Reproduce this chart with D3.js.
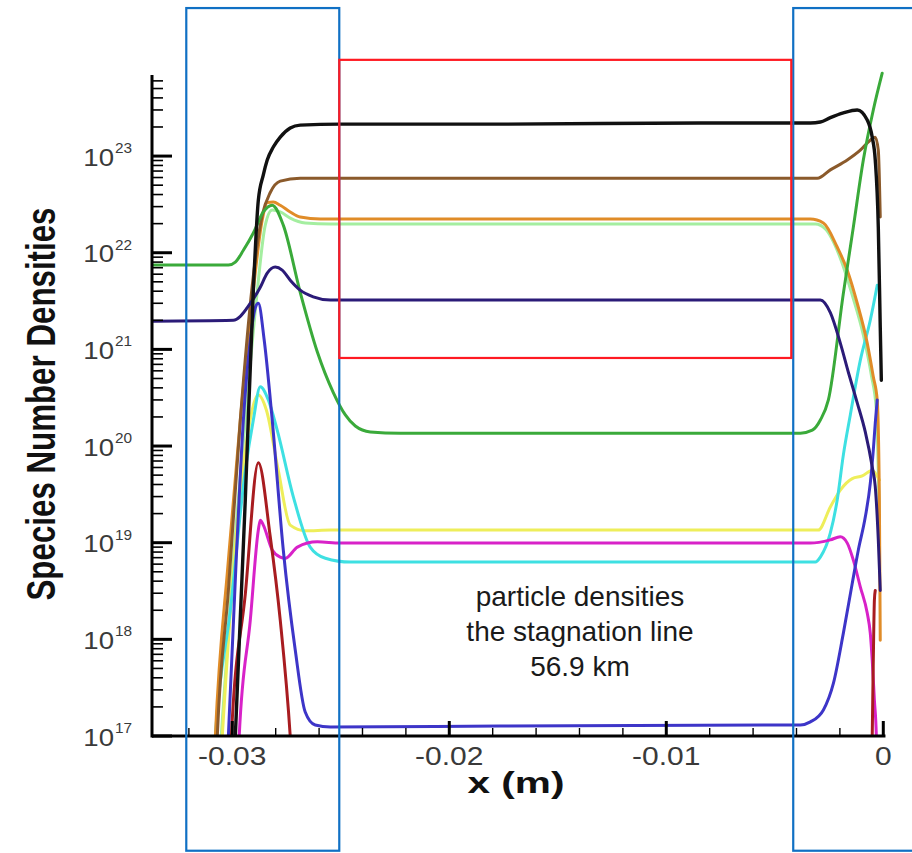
<!DOCTYPE html>
<html><head><meta charset="utf-8">
<script src="https://cdn.jsdelivr.net/npm/d3@7/dist/d3.min.js"></script>
<style>
html,body{margin:0;padding:0;background:#fff;}
svg{display:block;}
text{font-family:"Liberation Sans", Arial, Helvetica, sans-serif;}
</style></head><body>
<svg id="chart" width="912" height="853"></svg>
<script>
// ---------- data (x in m, number density in m^-3) ----------
const xTicks = [-0.03, -0.02, -0.01, 0];
const xTickLabels = ["-0.03", "-0.02", "-0.01", "0"];
const yExponents = [17, 18, 19, 20, 21, 22, 23];
const annotationLines = ["particle densities", "the stagnation line", "56.9 km"];

const black = [[-0.02995,3e16],[-0.02986,1e17],[-0.02940,2.8e19],[-0.02903,4.1e21],[-0.02880,3.5e22],[-0.02857,6.4e22],[-0.02839,9.1e22],[-0.02811,1.24e23],[-0.02779,1.57e23],[-0.02733,1.95e23],[-0.02687,2.09e23],[-0.02502,2.14e23],[-0.01765,2.14e23],[-0.00843,2.2e23],[-0.00336,2.2e23],[-0.00290,2.25e23],[-0.00244,2.5e23],[-0.00184,2.8e23],[-0.00120,3.0e23],[-0.00074,2.36e23],[-0.00051,1.57e23],[-0.00037,9.1e22],[-0.00023,1.84e22],[-0.00014,1.7e21],[-0.00009,4.8e20]];
const brown = [[-0.03078,3e16],[-0.03069,1e17],[-0.03018,3.2e18],[-0.02963,1.86e20],[-0.02908,4.6e21],[-0.02862,2.45e22],[-0.02825,4.2e22],[-0.02779,5.5e22],[-0.02687,5.9e22],[-0.01765,5.9e22],[-0.00304,5.9e22],[-0.00244,7.2e22],[-0.00166,9.1e22],[-0.00106,1.15e23],[-0.00060,1.46e23],[-0.00037,1.57e23],[-0.00023,1.15e23],[-0.00014,2.34e22]];
const orange = [[-0.03088,3e16],[-0.03078,1e17],[-0.03018,6.6e18],[-0.02963,1.86e20],[-0.02908,3.24e21],[-0.02862,2.18e22],[-0.02839,3.3e22],[-0.02811,3.35e22],[-0.02779,3.1e22],[-0.02733,2.64e22],[-0.02687,2.34e22],[-0.02594,2.23e22],[-0.01765,2.23e22],[-0.00336,2.23e22],[-0.00276,2.03e22],[-0.00212,1.14e22],[-0.00166,6.6e21],[-0.00120,3.0e21],[-0.00074,1.16e21],[-0.00046,5.2e20],[-0.00028,3.0e20],[-0.00018,2.8e19],[-0.00014,9.8e17]];
const paleGreen = [[-0.03065,3e16],[-0.03051,1e17],[-0.02995,6.6e18],[-0.02940,1.86e20],[-0.02889,3.24e21],[-0.02848,1.93e22],[-0.02816,2.76e22],[-0.02779,2.64e22],[-0.02733,2.28e22],[-0.02664,2.03e22],[-0.02548,1.98e22],[-0.00313,1.98e22],[-0.00267,1.76e22],[-0.00198,8.8e21],[-0.00143,3.65e21],[-0.00092,1.41e21],[-0.00055,5.4e20],[-0.00032,2.36e20],[-0.00018,1.71e19]];
const green = [[-0.03369,7.45e21],[-0.03147,7.45e21],[-0.03018,7.45e21],[-0.02986,8.0e21],[-0.02949,1.06e22],[-0.02903,1.6e22],[-0.02857,2.64e22],[-0.02816,3.1e22],[-0.02765,1.93e22],[-0.02687,3.9e21],[-0.02608,9.4e20],[-0.02535,3.6e20],[-0.02479,2.1e20],[-0.02433,1.61e20],[-0.02364,1.4e20],[-0.02226,1.36e20],[-0.00382,1.36e20],[-0.00327,1.46e20],[-0.00290,1.86e20],[-0.00253,3.0e20],[-0.00184,3.8e21],[-0.00138,1.84e22],[-0.00092,9.1e22],[-0.00046,3.0e23],[-0.00005,7.2e23]];
const indigo = [[-0.03369,1.96e21],[-0.02995,2.0e21],[-0.02963,2.2e21],[-0.02931,2.7e21],[-0.02871,4.4e21],[-0.02839,6.15e21],[-0.02802,7.1e21],[-0.02770,6.6e21],[-0.02733,5.2e21],[-0.02687,4.1e21],[-0.02627,3.5e21],[-0.02548,3.24e21],[-0.00290,3.24e21],[-0.00244,2.4e21],[-0.00198,1.16e21],[-0.00161,5.8e20],[-0.00120,2.8e20],[-0.00083,1.4e20],[-0.00051,6.1e19],[-0.00037,3.8e19],[-0.00023,1.07e19],[-0.00014,3.2e18]];
const blue = [[-0.03028,3e16],[-0.03018,1e17],[-0.02982,6.6e18],[-0.02949,1.86e20],[-0.02917,1.25e21],[-0.02894,2.7e21],[-0.02880,3.0e21],[-0.02853,1.25e21],[-0.02816,1.86e20],[-0.02765,8.4e18],[-0.02710,7.8e17],[-0.02664,1.77e17],[-0.02618,1.3e17],[-0.02548,1.24e17],[-0.01765,1.27e17],[-0.00382,1.3e17],[-0.00336,1.4e17],[-0.00276,1.86e17],[-0.00230,3.5e17],[-0.00184,1.16e18],[-0.00143,3.8e18],[-0.00115,8.4e18],[-0.00083,1.84e19],[-0.00060,4.1e19],[-0.00046,9.1e19],[-0.00037,1.73e20],[-0.00028,3.0e20]];
const cyan = [[-0.03092,3e16],[-0.03078,1e17],[-0.03009,2.0e18],[-0.02940,5.6e19],[-0.02903,1.86e20],[-0.02871,4.1e20],[-0.02834,3.0e20],[-0.02793,1.46e20],[-0.02719,3.0e19],[-0.02641,9.0e18],[-0.02571,6.9e18],[-0.02456,6.3e18],[-0.00313,6.3e18],[-0.00290,7.1e18],[-0.00244,1.26e19],[-0.00212,2.8e19],[-0.00184,8.1e19],[-0.00152,2.1e20],[-0.00106,7.7e20],[-0.00060,2.0e21],[-0.00028,4.6e21]];
const yellow = [[-0.03060,3e16],[-0.03046,1e17],[-0.02991,6.6e18],[-0.02926,1.46e20],[-0.02880,3.37e20],[-0.02843,2.36e20],[-0.02788,5.6e19],[-0.02733,1.52e19],[-0.02664,1.33e19],[-0.02548,1.35e19],[-0.00300,1.35e19],[-0.00244,2.34e19],[-0.00198,3.5e19],[-0.00143,4.6e19],[-0.00097,4.9e19],[-0.00051,5.6e19],[-0.00018,4.45e19]];
const magenta = [[-0.02977,3e16],[-0.02968,1e17],[-0.02917,1.58e18],[-0.02880,1.35e19],[-0.02871,1.71e19],[-0.02857,1.52e19],[-0.02816,8.4e18],[-0.02779,7.1e18],[-0.02756,6.9e18],[-0.02700,9.0e18],[-0.02608,1.02e19],[-0.02502,9.9e18],[-0.00336,9.9e18],[-0.00244,1.07e19],[-0.00198,1.15e19],[-0.00166,9.9e18],[-0.00138,6.6e18],[-0.00106,3.5e18],[-0.00074,1.87e18],[-0.00060,1.16e18],[-0.00051,6.1e17],[-0.00041,2.36e17],[-0.00032,1e17],[-0.00028,3e16]];
const darkRed = [[-0.03013,3e16],[-0.03004,1e17],[-0.02940,2.94e18],[-0.02880,6.7e19],[-0.02825,1.15e19],[-0.02779,1.58e18],[-0.02733,1e17],[-0.02719,3e16],[-0.02687,1e15],[-0.00083,1e15],[-0.00055,3e16],[-0.00051,1e17],[-0.00046,6.1e17],[-0.00041,2.55e18],[-0.00037,3.2e18]];

const seriesNames = ["paleGreen","yellow","cyan","orange","brown","green","magenta","blue","indigo","darkRed","black"];
const seriesData = [paleGreen, yellow, cyan, orange, brown, green, magenta, blue, indigo, darkRed, black];
const seriesColors = ["#a4eea0","#eeee5a","#3ee0e2","#e08c28","#8b5a2b","#3aaa3a","#d822c8","#3d35c8","#2b1b78","#a81c20","#111111"];

// annotation boxes, in data units
const boxesX0 = [-0.03212, -0.00415, -0.02507];
const boxesX1 = [-0.02507, 0.0016, -0.00424];
const boxesYTop = [3.4e24, 3.4e24, 9.9e23];
const boxesYBot = [6.5e15, 6.5e15, 8.15e20];
const boxesColor = ["#1070c4", "#1070c4", "#ff1a22"];

// ---------- drawing ----------
const svg = d3.select("#chart");
const x = d3.scaleLinear().domain([-0.0337, 0.0001]).range([152, 152 + 0.0338 * 21700]);
const y = d3.scaleLog().domain([1e17, 6.9e23]).range([736, 75]);
const [x0, x1] = x.range();
const [yb, yt] = y.range();

svg.append("defs").append("clipPath").attr("id", "clip")
  .append("rect").attr("x", x0 + 1).attr("y", 55).attr("width", x1 - x0 + 6).attr("height", yb - 55);

const line = d3.line().x(d => x(d[0])).y(d => y(d[1])).curve(d3.curveMonotoneX);
const lines = svg.append("g").attr("clip-path", "url(#clip)");
seriesData.forEach((arr, i) => {
  lines.append("path").datum(arr)
    .attr("d", line).attr("fill", "none")
    .attr("stroke", seriesColors[i])
    .attr("stroke-width", seriesNames[i] === "black" ? 3.4 : 3)
    .attr("stroke-linejoin", "round").attr("stroke-linecap", "round");
});

// axes
const ax = svg.append("g").attr("stroke", "#000");
ax.append("line").attr("x1", x0).attr("x2", x0).attr("y1", yb + 1.5).attr("y2", yt).attr("stroke-width", 3);
ax.append("line").attr("x1", x0).attr("x2", x1).attr("y1", yb).attr("y2", yb).attr("stroke-width", 3);

// y ticks
yExponents.forEach(e => {
  const yy = y(Math.pow(10, e));
  ax.append("line").attr("x1", x0).attr("x2", x0 + 20).attr("y1", yy).attr("y2", yy).attr("stroke-width", 3);
  for (let k = 2; k <= 9; k++) {
    const v = k * Math.pow(10, e);
    if (v > y.domain()[1]) break;
    const ym = y(v);
    ax.append("line").attr("x1", x0).attr("x2", x0 + 11).attr("y1", ym).attr("y2", ym).attr("stroke-width", 1.6);
  }
});
// x ticks
for (let i = -16; i <= 0; i++) {
  const v = i * 0.002;
  if (v < x.domain()[0]) continue;
  const xx = x(v);
  const major = Math.abs(v / 0.01 - Math.round(v / 0.01)) < 1e-6;
  ax.append("line").attr("x1", xx).attr("x2", xx).attr("y1", yb).attr("y2", yb - (major ? 15 : 8))
    .attr("stroke-width", major ? 3 : 1.4);
}

// tick labels
const lab = svg.append("g").attr("fill", "#3a3a3a");
yExponents.forEach(e => {
  const yy = y(Math.pow(10, e));
  lab.append("text").attr("transform", `translate(114,${yy + 9.5}) scale(1.15,1)`)
    .attr("text-anchor", "end").attr("font-size", 24).text("10");
  lab.append("text").attr("transform", `translate(115,${yy - 3}) scale(1.1,1)`)
    .attr("text-anchor", "start").attr("font-size", 14).text(e);
});
xTicks.forEach((t, i) => {
  lab.append("text").attr("transform", `translate(${x(t)},765) scale(1.2,1)`)
    .attr("text-anchor", "middle").attr("font-size", 25).text(xTickLabels[i]);
});

// axis titles
svg.append("text").attr("x", 516).attr("y", 793).attr("text-anchor", "middle")
  .attr("font-size", 30).attr("font-weight", "bold").attr("fill", "#111")
  .attr("textLength", 97).attr("lengthAdjust", "spacingAndGlyphs").text("x (m)");
svg.append("text").attr("transform", "translate(55,404) rotate(-90)").attr("text-anchor", "middle")
  .attr("font-size", 40).attr("font-weight", "bold").attr("fill", "#111")
  .attr("textLength", 393).attr("lengthAdjust", "spacingAndGlyphs").text("Species Number Densities");

// annotation text
annotationLines.forEach((s, i) => {
  svg.append("text").attr("x", 580).attr("y", 606 + i * 35).attr("text-anchor", "middle")
    .attr("font-size", 28).attr("fill", "#1a1a1a").text(s);
});

// boxes
boxesX0.forEach((bx, i) => {
  const left = x(bx), right = x(boxesX1[i]);
  const top = y(boxesYTop[i]), bot = y(boxesYBot[i]);
  svg.append("rect").attr("x", left).attr("y", top).attr("width", right - left).attr("height", bot - top)
    .attr("fill", "none").attr("stroke", boxesColor[i]).attr("stroke-width", 2.2);
});
</script>
</body></html>
